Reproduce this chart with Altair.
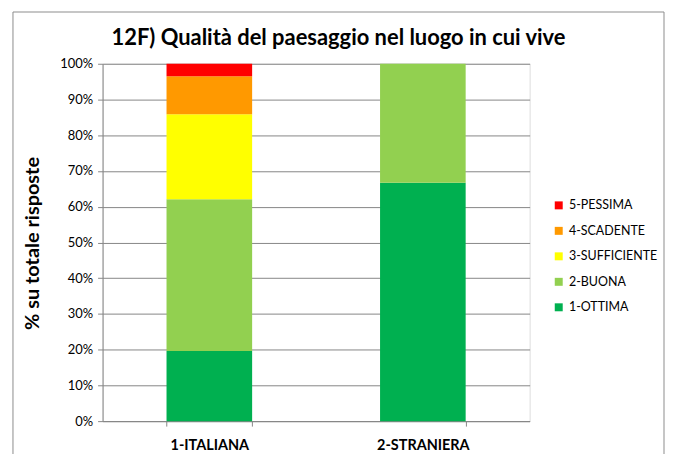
import altair as alt
import pandas as pd

categories = ["1-ITALIANA", "2-STRANIERA"]
levels = ["1-OTTIMA", "2-BUONA", "3-SUFFICIENTE", "4-SCADENTE", "5-PESSIMA"]
italiana = [19.6, 42.5, 23.8, 10.6, 3.5]
straniera = [66.7, 33.3, 0.0, 0.0, 0.0]
colors = ["#00B050", "#92D050", "#FFFF00", "#FF9900", "#FF0000"]
y_ticks = [0, 10, 20, 30, 40, 50, 60, 70, 80, 90, 100]
title_text = "12F) Qualità del paesaggio nel luogo in cui vive"

rows = []
for cat, vals in zip(categories, [italiana, straniera]):
    for i, (lev, v) in enumerate(zip(levels, vals)):
        rows.append({"cat": cat, "level": lev, "value": v / 100.0, "ord": i})
df = pd.DataFrame(rows)

FONT = "Lato"
GRID = "#868686"

frame = alt.Chart(pd.DataFrame({"a": [0]})).mark_rect(
    fill=None, stroke="#8c8c8c", strokeWidth=1
).encode(
    x=alt.value(-90), x2=alt.value(564), y=alt.value(-52), y2=alt.value(420)
)

title = alt.Chart(pd.DataFrame({"t": [title_text]})).mark_text(
    font=FONT, fontSize=22, fontWeight="bold", color="#000000",
    align="center", baseline="middle"
).encode(text="t:N", x=alt.value(237), y=alt.value(-26))

bars = alt.Chart(df).mark_bar(size=86).encode(
    x=alt.X("cat:N", sort=categories,
            scale=alt.Scale(paddingInner=0.6, paddingOuter=0.3),
            axis=alt.Axis(title=None, labelAngle=0, labelFont=FONT, labelFontSize=14.5,
                          labelFontWeight="bold", labelColor="#000000", labelPadding=13,
                          domainColor=GRID, tickColor=GRID, tickSize=5, tickBand="extent",
                          grid=False)),
    y=alt.Y("value:Q", stack="zero",
            scale=alt.Scale(domain=[0, 1], nice=False),
            axis=alt.Axis(values=[t / 100 for t in y_ticks], format=".0%",
                          title="% su totale risposte", titleFont=FONT, titleFontSize=20,
                          titleFontWeight="bold", titleColor="#000000",
                          titleAngle=-90, titleX=-70, titleY=180,
                          titleAlign="center", titleBaseline="middle",
                          labelFont=FONT, labelFontSize=13, labelColor="#000000",
                          labelPadding=5, domainColor=GRID, tickColor=GRID, tickSize=5,
                          gridColor=GRID, gridWidth=1)),
    color=alt.Color("level:N",
                    scale=alt.Scale(domain=levels[::-1], range=colors[::-1]),
                    legend=alt.Legend(title=None, orient="none", legendX=452, legendY=136,
                                      symbolType="square", symbolSize=64,
                                      symbolStrokeWidth=0, labelFont=FONT,
                                      labelFontSize=12.5, labelColor="#000000",
                                      rowPadding=12.6, labelOffset=4)),
    order=alt.Order("ord:Q", sort="ascending"),
)

chart = alt.layer(frame, title, bars).properties(
    width=429, height=359,
    autosize=alt.AutoSizeParams(type="none"),
    padding={"left": 95, "top": 55, "right": 136, "bottom": 32},
).configure_view(stroke=None).configure(background="#ffffff")

chart.save("out.html", embed_options={"renderer": "svg", "actions": False})
